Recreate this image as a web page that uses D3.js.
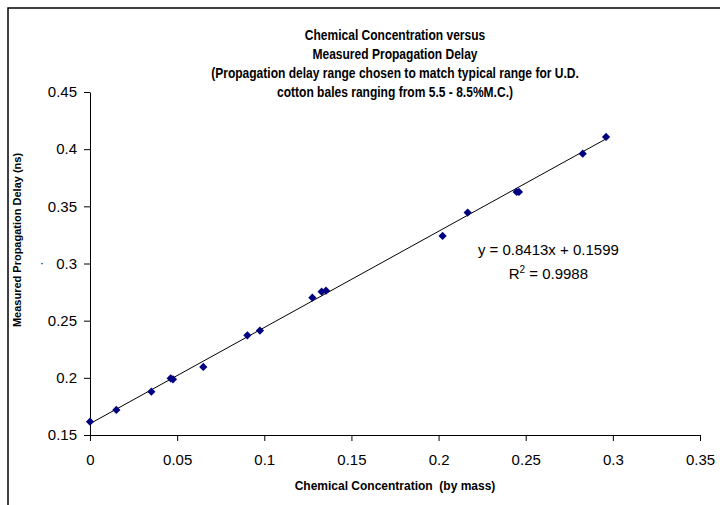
<!DOCTYPE html>
<html>
<head>
<meta charset="utf-8">
<script src="https://cdn.jsdelivr.net/npm/d3@7"></script>
<style>
  body { margin: 0; background: #fff; }
  text { font-family: Arial, "Liberation Sans", sans-serif; }
</style>
</head>
<body>
<div id="chart"></div>
<script>
// chemical concentration (by mass) and measured delay (ns)
let concentration = [0, 0.0151, 0.0352, 0.0463, 0.0476, 0.065, 0.0903, 0.0975, 0.1276, 0.1329, 0.1354,
  0.2023, 0.2167, 0.2448, 0.2461, 0.2827, 0.2961];
let delay = [0.1616, 0.1719, 0.1879, 0.1996, 0.1987, 0.2095, 0.2372, 0.2413, 0.2701, 0.2754, 0.2762,
  0.3241, 0.3445, 0.3626, 0.3626, 0.3961, 0.4107];

let xTicks = [0, 0.05, 0.1, 0.15, 0.2, 0.25, 0.3, 0.35];
let yTicks = [0.15, 0.2, 0.25, 0.3, 0.35, 0.4, 0.45];

let slope = 0.8413, intercept = 0.1599, r2 = 0.9988;

let titleLines = [
  "Chemical Concentration versus",
  "Measured Propagation Delay",
  "(Propagation delay range chosen to match typical range for U.D.",
  "cotton bales ranging from 5.5 - 8.5%M.C.)"
];

let data = concentration.map((c, i) => ({ x: c, y: delay[i] }));

let width = 720,
  height = 505,
  margin = ({ top: 92, right: 20, bottom: 70, left: 90 });

let x = d3.scaleLinear()
  .domain([0, 0.35])
  .range([margin.left, width - margin.right]);

let y = d3.scaleLinear()
  .domain([0.15, 0.45])
  .range([height - margin.bottom, margin.top]);

const svg = d3.select("#chart")
  .append("svg")
  .attr("width", width)
  .attr("height", height)
  .attr("viewBox", [0, 0, width, height]);

// outer chart frame (only top/left edges fall inside the picture)
svg.append("rect")
  .attr("x", 8).attr("y", 8)
  .attr("width", width).attr("height", height)
  .attr("fill", "#fff")
  .attr("stroke", "#000")
  .attr("stroke-width", 1.5);

let fmt = d => d3.format("")(+d.toFixed(2));

svg.append("g")
  .attr("transform", `translate(0,${height - margin.bottom})`)
  .call(d3.axisBottom(x).tickValues(xTicks).tickSize(6).tickSizeOuter(0).tickPadding(13).tickFormat(fmt));

svg.append("g")
  .attr("transform", `translate(${margin.left},0)`)
  .call(d3.axisLeft(y).tickValues(yTicks).tickSize(6).tickSizeOuter(0).tickPadding(7).tickFormat(fmt));

svg.selectAll(".tick text")
  .attr("font-size", 15)
  .attr("font-family", "Arial, 'Liberation Sans', sans-serif")
  .attr("fill", "#000");
svg.selectAll(".domain, .tick line").attr("stroke", "#000");

// stray dot left of the 0.3 label
svg.append("text")
  .attr("x", 42).attr("y", y(0.3))
  .attr("dy", "0.32em")
  .attr("text-anchor", "middle")
  .attr("font-size", 12)
  .text("·");

// linear trendline
let trend = [d3.min(concentration), d3.max(concentration)];
svg.append("path")
  .datum(trend)
  .attr("fill", "none")
  .attr("stroke", "#000")
  .attr("stroke-width", 1)
  .attr("d", d3.line().x(d => x(d)).y(d => y(slope * d + intercept)));

// diamond markers
svg.append("g")
  .selectAll("path")
  .data(data)
  .join("path")
  .attr("transform", d => `translate(${x(d.x)},${y(d.y)}) rotate(45)`)
  .attr("d", d3.symbol(d3.symbolSquare, 34))
  .attr("fill", "#000080");

// title, slightly condensed like the original
let cx = (margin.left + width - margin.right) / 2;
svg.append("g")
  .attr("transform", `translate(${cx},0) scale(0.86,1)`)
  .append("text")
  .attr("text-anchor", "middle")
  .attr("font-weight", "bold")
  .attr("font-size", 14)
  .selectAll("tspan")
  .data(titleLines)
  .join("tspan")
  .attr("x", 0)
  .attr("y", (d, i) => 40 + i * 19)
  .text(d => d);

// axis titles
svg.append("text")
  .attr("x", cx)
  .attr("y", 490)
  .attr("text-anchor", "middle")
  .attr("font-weight", "bold")
  .attr("font-size", 12)
  .style("white-space", "pre")
  .text("Chemical Concentration  (by mass)");

svg.append("text")
  .attr("transform", `translate(21,240) rotate(-90)`)
  .attr("text-anchor", "middle")
  .attr("font-weight", "bold")
  .attr("font-size", 11)
  .text("Measured Propagation Delay (ns)");

// regression annotation
let eq = svg.append("g").attr("font-size", 15).attr("text-anchor", "middle");
eq.append("text")
  .attr("x", x(0.263)).attr("y", 255)
  .text(`y = ${slope}x + ${intercept}`);
let r = eq.append("text")
  .attr("x", x(0.263)).attr("y", 279);
r.append("tspan").text("R");
r.append("tspan").attr("dy", -6).attr("font-size", 10).text("2");
r.append("tspan").attr("dy", 6).text(` = ${r2}`);
</script>
</body>
</html>
